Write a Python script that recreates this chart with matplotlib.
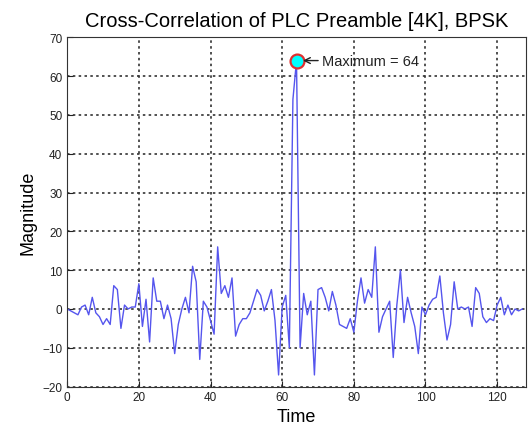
import matplotlib.pyplot as plt
import numpy as np

plt.rcParams['font.family'] = ['Liberation Sans', 'DejaVu Sans']

# cross-correlation magnitude, one value per sample
mag = [0, -0.5, -1, -1.5, 0.5, 1, -1.5, 3, -1, -2,
       -4, -2.5, -4, 6, 5, -5, 1, 0, 0.5, 0.5,
       6.5, -4.5, 2.5, -8.5, 8, 2, 2, -2.5, 1, -2.5,
       -11.5, -4, 0, 3, -1, 11, 7, -13, 2, 0.5,
       -3, -6.5, 16, 4, 6, 3, 8, -7, -4, -2.5,
       -2.5, -1, 2, 5, 3.5, -0.5, 2, 5, -3, -17,
       0.5, 3.5, -10, 54, 64, -10, 4, -1.5, 2, -17,
       5, 5.5, 3, -0.5, 4.5, 1, -4, -4.5, -5, -2.5,
       -6, 2, 8, 1.5, 5, 3, 16, -6, -2, 0,
       2, -12.5, 1, 10, -3.5, 3, -1, -4.5, -11.5, 0.5,
       -1.5, 1, 2.5, 3, 8.5, -1, -8, -4, 7, 0,
       0.5, 0, 0.5, -4.5, 5.5, 4, -2, -3.5, -2.5, -3,
       1, 3, -1.5, 1, -1.5, 0, -0.5, 0]
time = np.arange(len(mag))

xticks = [0, 20, 40, 60, 80, 100, 120]
yticks = [-20, -10, 0, 10, 20, 30, 40, 50, 60, 70]

imax = int(np.argmax(mag))

fig = plt.figure(figsize=(5.29, 4.35), dpi=100)
ax = fig.add_axes([0.127, 0.109, 0.867, 0.803])

ax.plot(time, mag, color='#5555ee', linewidth=1.0)
ax.plot(time[imax], mag[imax], 'o', markersize=10,
        markerfacecolor='#00ffff', markeredgecolor='#e03030', markeredgewidth=1.6)
ax.annotate('Maximum = %d' % mag[imax], xy=(time[imax] + 1.8, mag[imax]),
            xytext=(time[imax] + 7.2, mag[imax]), fontsize=10.5, va='center',
            color='#222222',
            arrowprops=dict(arrowstyle='->', color='#222222', lw=1.0,
                            shrinkA=1, shrinkB=0))

ax.set_xlim(0, 128)
ax.set_ylim(-20, 70)
ax.set_xticks(xticks)
ax.set_yticks(yticks)
ax.tick_params(direction='in', labelsize=8.5, length=4, colors='#222222')
ax.grid(True, linestyle=(0, (1.5, 2)), color='#333333', linewidth=1.2)
for s in ax.spines.values():
    s.set_color('#333333')

ax.set_title('Cross-Correlation of PLC Preamble [4K], BPSK', fontsize=14.5, pad=8)
ax.set_xlabel('Time', fontsize=13, labelpad=3)
ax.set_ylabel('Magnitude', fontsize=13, labelpad=4)

fig.savefig('out.png', dpi=100)
